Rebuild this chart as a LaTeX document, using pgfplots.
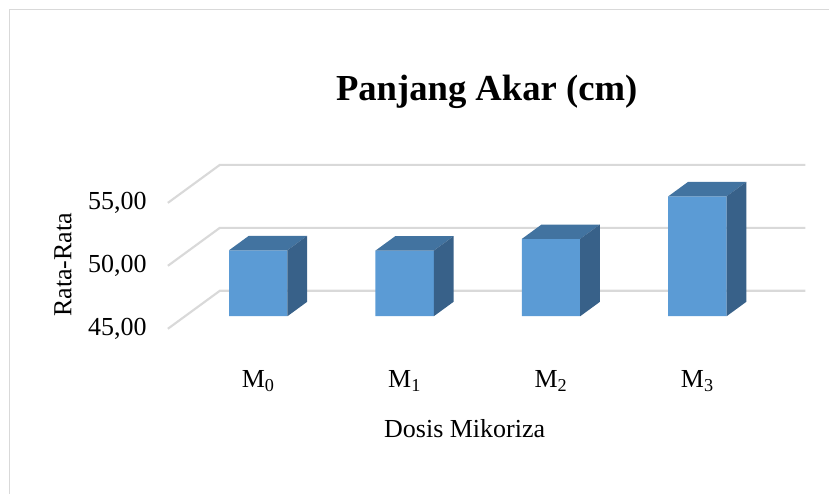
\documentclass[border=0pt]{standalone}
\usepackage{pgfplots}
\pgfplotsset{compat=1.18}
\usepackage{pgfplotstable}
\usepackage{fontspec}
\setmainfont{Liberation Serif}
\definecolor{barfront}{HTML}{5B9BD5}
\definecolor{bartop}{HTML}{4273A0}
\definecolor{barside}{HTML}{386189}
\definecolor{gridc}{HTML}{D9D9D9}
\definecolor{framec}{HTML}{D9D9D9}

\pgfplotstableread{
x v
0 50.24
1 50.21
2 51.14
3 54.52
}\data

\newcommand\lblfont{\fontsize{19.5}{23}\selectfont}

\begin{document}
\begin{tikzpicture}
\begin{axis}[
  scale only axis, width=478.5pt, height=123.75pt,
  xmin=-0.5, xmax=3.855, ymin=-0.995, ymax=12.1,
  clip=false,
  axis line style={draw=none},
  major tick length=0pt,
  ytick={-0.995,4.005,9.005},
  yticklabels={{45,00},{50,00},{55,00}},
  xtick={0.1171,1.1171,2.1171,3.1171},
  xticklabels={M\textsubscript{0},M\textsubscript{1},M\textsubscript{2},M\textsubscript{3}},
  yticklabel style={anchor=east, inner sep=0pt, xshift=-15.75pt, font=\lblfont},
  xticklabel style={anchor=base, inner sep=0pt, yshift=-44.25pt, font=\lblfont},
  title={Panjang Akar (cm)},
  title style={at={(axis description cs:0.5,1)}, anchor=base, yshift=41.25pt, font=\bfseries\fontsize{27.5}{33}\selectfont},
  xlabel={Dosis Mikoriza},
  xlabel style={at={(axis description cs:0.4655,0)}, anchor=base, yshift=-81.75pt, font=\lblfont},
  ylabel={Rata-Rata},
  ylabel style={at={(axis description cs:-0.1646,0.388)}, anchor=center, font=\lblfont},
]
% invisible picture extent and chart frame
\path (rel axis cs:-0.26332,-1) rectangle (rel axis cs:1.03762,1.99394);
\draw[framec, line width=0.9pt] (rel axis cs:-0.2484,-1) -- (rel axis cs:-0.2484,1.9364) -- (rel axis cs:1.03762,1.9364);

% perspective gridlines (floor/wall)
\addplot[gridc, line width=1.6pt, forget plot] coordinates {(-0.5,-0.995) (-0.1451,2.021) (3.855,2.021)};
\addplot[gridc, line width=1.6pt, forget plot] coordinates {(-0.5,4.005) (-0.1451,7.021) (3.855,7.021)};
\addplot[gridc, line width=1.6pt, forget plot] coordinates {(-0.5,9.005) (-0.1451,12.021) (3.855,12.021)};

% bar front faces
\addplot[ybar, bar width=0.3986, bar shift=0pt, fill=barfront, draw=none, forget plot]
  table[x expr=\thisrow{x}+0.1171, y expr=\thisrow{v}-45]{\data};

% bar top and side faces
\pgfplotsforeachungrouped \i in {0,1,2,3}{%
  \pgfplotstablegetelem{\i}{v}\of\data
  \pgfmathsetmacro\yf{\pgfplotsretval-45}%
  \pgfmathsetmacro\yb{\yf+1.146}%
  \pgfmathsetmacro\xl{\i+0.1171-0.1993}%
  \pgfmathsetmacro\xr{\i+0.1171+0.1993}%
  \pgfmathsetmacro\xlb{\xl+0.1349}%
  \pgfmathsetmacro\xrb{\xr+0.1349}%
  \edef\tmp{%
    \noexpand\addplot[fill=bartop, draw=none, forget plot] coordinates {(\xl,\yf) (\xr,\yf) (\xrb,\yb) (\xlb,\yb)};
    \noexpand\addplot[fill=barside, draw=none, forget plot] coordinates {(\xr,0) (\xrb,1.146) (\xrb,\yb) (\xr,\yf)};
  }\tmp
}
\end{axis}
\end{tikzpicture}
\end{document}
